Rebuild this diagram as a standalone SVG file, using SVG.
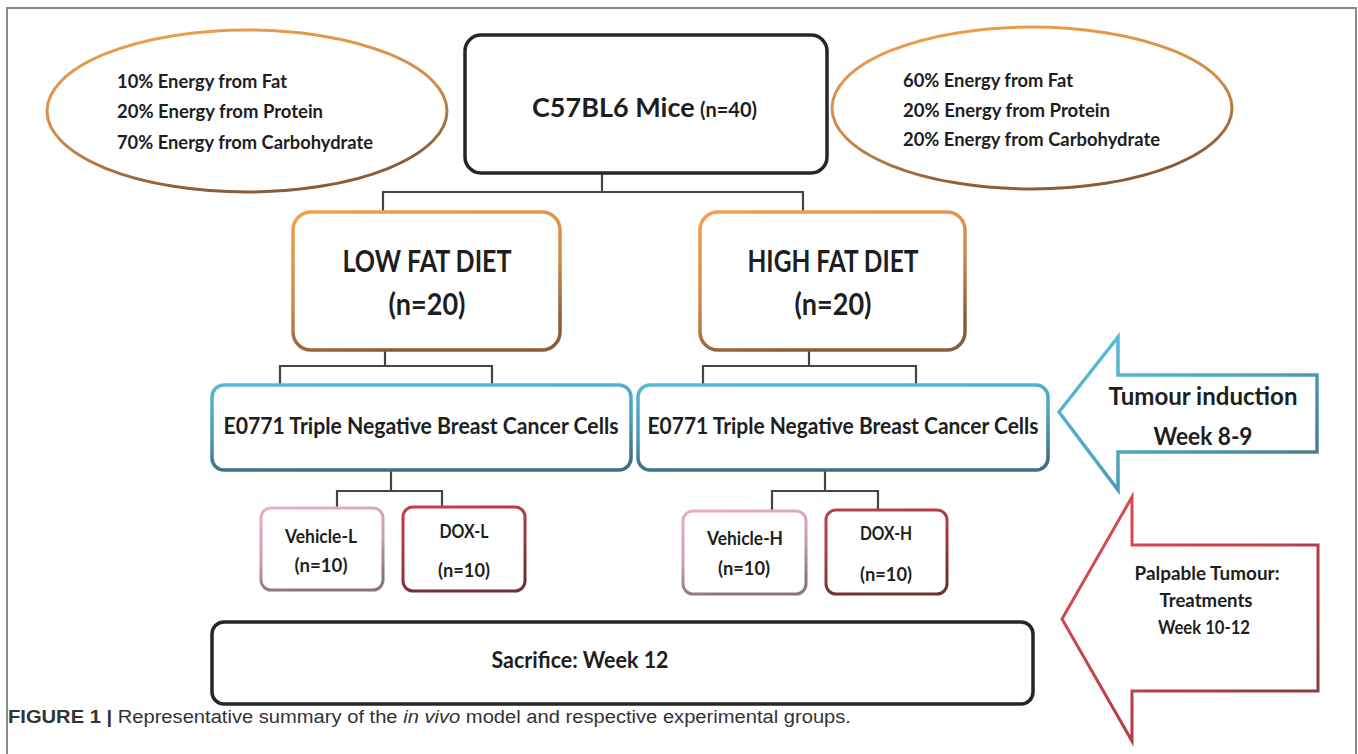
<svg xmlns="http://www.w3.org/2000/svg" width="1358" height="754" viewBox="0 0 1358 754">
<defs>
<linearGradient id="gOrange" x1="0" y1="0" x2="0.35" y2="1"><stop offset="0" stop-color="#f2a14e"/><stop offset="0.6" stop-color="#d08a4a"/><stop offset="1" stop-color="#8a5c38"/></linearGradient>
<linearGradient id="gBlue" x1="0" y1="0" x2="0.2" y2="1"><stop offset="0" stop-color="#5ab8d8"/><stop offset="0.6" stop-color="#4a9ab8"/><stop offset="1" stop-color="#3f6f80"/></linearGradient>
<linearGradient id="gPink" x1="0" y1="0" x2="0.3" y2="1"><stop offset="0" stop-color="#e9b3b8"/><stop offset="0.6" stop-color="#c9a0a6"/><stop offset="1" stop-color="#8c7478"/></linearGradient>
<linearGradient id="gRed" x1="0" y1="0" x2="0.3" y2="1"><stop offset="0" stop-color="#c2404a"/><stop offset="0.6" stop-color="#a03a42"/><stop offset="1" stop-color="#6e3034"/></linearGradient>
<linearGradient id="gArrowBlue" x1="0" y1="0" x2="1" y2="1"><stop offset="0" stop-color="#5cc0dc"/><stop offset="0.5" stop-color="#4fa5c2"/><stop offset="1" stop-color="#46707e"/></linearGradient>
<linearGradient id="gArrowRed" x1="0" y1="0" x2="1" y2="1"><stop offset="0" stop-color="#e05050"/><stop offset="0.5" stop-color="#c04048"/><stop offset="1" stop-color="#7a3a3e"/></linearGradient>
</defs>
<style>
.lbl{font-family:Lato,"Open Sans","Liberation Sans",sans-serif;font-weight:bold;fill:#1e1e1e}
.cap{font-family:"Liberation Sans",Arial,sans-serif;fill:#333}
.conn{fill:none;stroke:#454545;stroke-width:2.2}
.box{fill:#fff}
</style>
<rect x="0" y="0" width="1358" height="754" fill="#fff"/>
<path d="M7,754 V8 H1356 V754" fill="none" stroke="#8a8a8a" stroke-width="2"/>

<g id="connectors">
<path class="conn" d="M602,173 V192 M383,213 V192 H803 V213"/>
<path class="conn" d="M385,350 V366 M280,385 V366 H492 V385"/>
<path class="conn" d="M809,350 V366 M703,385 V366 H916 V385"/>
<path class="conn" d="M391,470 V491 M337,508 V491 H442 V508"/>
<path class="conn" d="M825,470 V491 M772,511 V491 H878 V511"/>
</g>

<g id="low-fat-composition">
<ellipse cx="247" cy="111" rx="200" ry="81" fill="#fff" stroke="url(#gOrange)" stroke-width="3"/>
<text class="lbl" font-size="19" x="117" y="88" textLength="170" lengthAdjust="spacingAndGlyphs">10% Energy from Fat</text>
<text class="lbl" font-size="19" x="117" y="118" textLength="206" lengthAdjust="spacingAndGlyphs">20% Energy from Protein</text>
<text class="lbl" font-size="19" x="117" y="149" textLength="256" lengthAdjust="spacingAndGlyphs">70% Energy from Carbohydrate</text>
</g>

<g id="high-fat-composition">
<ellipse cx="1032" cy="108" rx="200" ry="81" fill="#fff" stroke="url(#gOrange)" stroke-width="3"/>
<text class="lbl" font-size="19" x="903" y="87" textLength="170" lengthAdjust="spacingAndGlyphs">60% Energy from Fat</text>
<text class="lbl" font-size="19" x="903" y="117" textLength="207" lengthAdjust="spacingAndGlyphs">20% Energy from Protein</text>
<text class="lbl" font-size="19" x="903" y="146" textLength="257" lengthAdjust="spacingAndGlyphs">20% Energy from Carbohydrate</text>
</g>

<g id="mice">
<rect x="465" y="35" width="362" height="138" rx="16" class="box" stroke="#262626" stroke-width="3.5"/>
<text class="lbl" font-size="27" x="532" y="117">C57BL6 Mice</text>
<text class="lbl" font-size="20" x="757" y="117" text-anchor="end">(n=40)</text>
</g>

<g id="low-fat-diet">
<rect x="293" y="212" width="267" height="138" rx="18" class="box" stroke="url(#gOrange)" stroke-width="3.5"/>
<text class="lbl" font-size="30" x="427" y="272" text-anchor="middle" textLength="169" lengthAdjust="spacingAndGlyphs">LOW FAT DIET</text>
<text class="lbl" font-size="30" x="427" y="315" text-anchor="middle" textLength="77" lengthAdjust="spacingAndGlyphs">(n=20)</text>
</g>

<g id="high-fat-diet">
<rect x="700" y="212" width="265" height="138" rx="18" class="box" stroke="url(#gOrange)" stroke-width="3.5"/>
<text class="lbl" font-size="30" x="833" y="272" text-anchor="middle" textLength="171" lengthAdjust="spacingAndGlyphs">HIGH FAT DIET</text>
<text class="lbl" font-size="30" x="833" y="315" text-anchor="middle" textLength="77" lengthAdjust="spacingAndGlyphs">(n=20)</text>
</g>

<g id="cells-low">
<rect x="212" y="385" width="419" height="85" rx="12" class="box" stroke="url(#gBlue)" stroke-width="3.5"/>
<text class="lbl" font-size="23" x="421" y="434" text-anchor="middle" textLength="395" lengthAdjust="spacingAndGlyphs">E0771 Triple Negative Breast Cancer Cells</text>
</g>

<g id="cells-high">
<rect x="638" y="385" width="410" height="85" rx="12" class="box" stroke="url(#gBlue)" stroke-width="3.5"/>
<text class="lbl" font-size="23" x="843" y="434" text-anchor="middle" textLength="391" lengthAdjust="spacingAndGlyphs">E0771 Triple Negative Breast Cancer Cells</text>
</g>

<g id="vehicle-l">
<rect x="261" y="508" width="122" height="82" rx="10" class="box" stroke="url(#gPink)" stroke-width="3"/>
<text class="lbl" font-size="18" x="321" y="543" text-anchor="middle" textLength="72" lengthAdjust="spacingAndGlyphs">Vehicle-L</text>
<text class="lbl" font-size="18" x="321" y="572" text-anchor="middle" textLength="53" lengthAdjust="spacingAndGlyphs">(n=10)</text>
</g>

<g id="dox-l">
<rect x="403" y="507" width="122" height="84" rx="10" class="box" stroke="url(#gRed)" stroke-width="3"/>
<text class="lbl" font-size="18" x="464" y="538" text-anchor="middle" textLength="49" lengthAdjust="spacingAndGlyphs">DOX-L</text>
<text class="lbl" font-size="18" x="464" y="577" text-anchor="middle" textLength="52" lengthAdjust="spacingAndGlyphs">(n=10)</text>
</g>

<g id="vehicle-h">
<rect x="683" y="511" width="123" height="83" rx="10" class="box" stroke="url(#gPink)" stroke-width="3"/>
<text class="lbl" font-size="18" x="745" y="545" text-anchor="middle" textLength="76" lengthAdjust="spacingAndGlyphs">Vehicle-H</text>
<text class="lbl" font-size="18" x="744" y="575" text-anchor="middle" textLength="52" lengthAdjust="spacingAndGlyphs">(n=10)</text>
</g>

<g id="dox-h">
<rect x="826" y="510" width="121" height="84" rx="10" class="box" stroke="url(#gRed)" stroke-width="3"/>
<text class="lbl" font-size="18" x="886" y="540" text-anchor="middle" textLength="52" lengthAdjust="spacingAndGlyphs">DOX-H</text>
<text class="lbl" font-size="18" x="886" y="581" text-anchor="middle" textLength="52" lengthAdjust="spacingAndGlyphs">(n=10)</text>
</g>

<g id="sacrifice">
<rect x="212" y="622" width="821" height="82" rx="12" class="box" stroke="#262626" stroke-width="3.5"/>
<text class="lbl" font-size="23" x="580" y="668" text-anchor="middle" textLength="177" lengthAdjust="spacingAndGlyphs">Sacrifice: Week 12</text>
</g>

<g id="tumour-induction">
<polygon points="1059,412 1118,337 1118,375 1317,375 1317,452 1118,452 1118,490" fill="#fff" stroke="url(#gArrowBlue)" stroke-width="3.5" stroke-linejoin="miter"/>
<text class="lbl" font-size="24" x="1203" y="405" text-anchor="middle" textLength="189" lengthAdjust="spacingAndGlyphs">Tumour  induction</text>
<text class="lbl" font-size="24" x="1203" y="445" text-anchor="middle" textLength="99" lengthAdjust="spacingAndGlyphs">Week 8-9</text>
</g>

<g id="treatments">
<polygon points="1062,619 1132,497 1132,545 1318,545 1318,691 1132,691 1132,741" fill="#fff" stroke="url(#gArrowRed)" stroke-width="3" stroke-linejoin="miter"/>
<text class="lbl" font-size="18" x="1207" y="580" text-anchor="middle" textLength="145" lengthAdjust="spacingAndGlyphs">Palpable Tumour:</text>
<text class="lbl" font-size="18" x="1206" y="607" text-anchor="middle" textLength="93" lengthAdjust="spacingAndGlyphs">Treatments</text>
<text class="lbl" font-size="18" x="1204" y="634" text-anchor="middle" textLength="92" lengthAdjust="spacingAndGlyphs">Week 10-12</text>
</g>

<text class="cap" font-size="18" x="8" y="723" textLength="843" lengthAdjust="spacingAndGlyphs"><tspan font-weight="bold">FIGURE 1 |</tspan> Representative summary of the <tspan font-style="italic">in vivo</tspan> model and respective experimental groups.</text>
</svg>
